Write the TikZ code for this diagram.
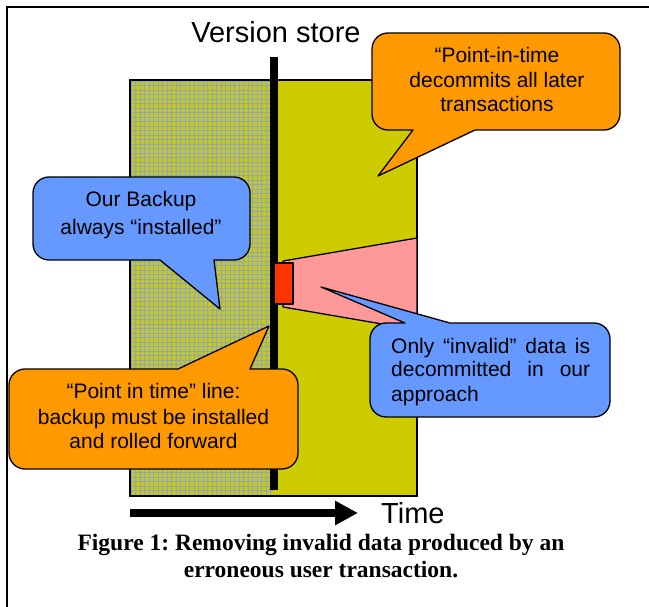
\documentclass[tikz,border=0pt]{standalone}
\usepackage{fontspec}
\setmainfont{Liberation Sans}
\newfontfamily\capfont{Liberation Serif}
\usetikzlibrary{arrows.meta}

\definecolor{storeolive}{RGB}{204,204,0}
\definecolor{hatchbase}{RGB}{196,200,32}
\definecolor{hatchline}{RGB}{142,166,192}
\definecolor{calloutorange}{RGB}{255,153,0}
\definecolor{calloutblue}{RGB}{102,153,255}
\definecolor{invalidpink}{RGB}{255,153,153}
\definecolor{invalidred}{RGB}{255,51,0}

% corner radius of the callouts
\def\crad{16}
\def\cq{7.2}% 0.448 * radius, control-point offset for a quarter circle

% callout with its pointer on the lower edge:
% #1 style, #2 left, #3 top, #4 right, #5 bottom, #6/#7 pointer base x, #8/#9 pointer tip
\newcommand\calloutlow[9]{%
  \draw[#1] ({#2+\crad},#3) -- ({#4-\crad},#3)
    .. controls ({#4-\cq},#3) and (#4,{#3+\cq}) .. (#4,{#3+\crad})
    -- (#4,{#5-\crad})
    .. controls (#4,{#5-\cq}) and ({#4-\cq},#5) .. ({#4-\crad},#5)
    -- (#7,#5) -- (#8,#9) -- (#6,#5)
    -- ({#2+\crad},#5)
    .. controls ({#2+\cq},#5) and (#2,{#5-\cq}) .. (#2,{#5-\crad})
    -- (#2,{#3+\crad})
    .. controls (#2,{#3+\cq}) and ({#2+\cq},#3) .. ({#2+\crad},#3) -- cycle;}

% callout with its pointer on the upper edge
\newcommand\callouthigh[9]{%
  \draw[#1] ({#2+\crad},#3) -- (#6,#3) -- (#8,#9) -- (#7,#3)
    -- ({#4-\crad},#3)
    .. controls ({#4-\cq},#3) and (#4,{#3+\cq}) .. (#4,{#3+\crad})
    -- (#4,{#5-\crad})
    .. controls (#4,{#5-\cq}) and ({#4-\cq},#5) .. ({#4-\crad},#5)
    -- ({#2+\crad},#5)
    .. controls ({#2+\cq},#5) and (#2,{#5-\cq}) .. (#2,{#5-\crad})
    -- (#2,{#3+\crad})
    .. controls (#2,{#3+\cq}) and ({#2+\cq},#3) .. ({#2+\crad},#3) -- cycle;}

\tikzset{
  outline/.style={draw=black, line width=1.3pt, line join=round},
  orangecall/.style={outline, fill=calloutorange},
  bluecall/.style={outline, fill=calloutblue},
  calltext/.style={inner sep=0pt, font=\fontsize{21}{24}\selectfont, anchor=base},
  bigtext/.style={inner sep=0pt, font=\fontsize{29}{34}\selectfont},
  captext/.style={inner sep=0pt, font=\capfont\bfseries\fontsize{23.5}{27}\selectfont\frenchspacing, anchor=base},
}

\begin{document}
\begin{tikzpicture}[x=1pt,y=-1pt]
  \useasboundingbox (0,0) rectangle (649,607);
  \fill[white] (0,0) rectangle (649,607);

  % frame lines
  \draw[line width=2pt] (7,607) -- (7,7.5) -- (649,7.5);

  % version store: backed-up part (hatched) and later part
  \begin{scope}
    \clip (130,80) rectangle (273,496);
    \fill[hatchbase] (130,80) rectangle (273,496);
    \foreach \gx in {131,135.5,...,275} \draw[hatchline, line width=0.8pt] (\gx,80) -- (\gx,496);
    \foreach \gy in {81,85.5,...,498} \draw[hatchline, line width=0.8pt] (130,\gy) -- (273,\gy);
  \end{scope}
  \fill[storeolive] (273,80) rectangle (417,496);
  \draw[line width=1.5pt] (130,80) rectangle (417,496);

  % data produced by the erroneous transaction
  \draw[outline, fill=invalidpink] (283,261) -- (417,238) -- (417,330) -- (283,307) -- cycle;

  % point-in-time line
  \coordinate (linetop) at (274,57);
  \coordinate (linebot) at (274,490);
  \draw[line width=7.5pt] (linetop) -- (linebot);

  % erroneous transaction
  \draw[outline, fill=invalidred] (274,263) rectangle (293,304);

  % labels
  \node[bigtext, anchor=base] (store) at (276,43) {Version store};

  % callouts
  \calloutlow{orangecall}{372}{33}{620}{130}{413}{475}{378}{176}
  \node[calltext] (pit1) at (497,63) {“Point-in-time};
  \node[calltext] (pit2) at (497,88) {decommits all later};
  \node[calltext] (pit3) at (497,112) {transactions};

  \calloutlow{bluecall}{33}{177}{250}{260}{160}{214}{220}{309}
  \node[calltext] (bk1) at (141,207) {Our Backup};
  \node[calltext] (bk2) at (141,235) {always “installed”};

  \callouthigh{bluecall}{370}{323}{610}{417}{405}{450}{321}{287}
  \node[calltext, anchor=base west] (inv1) at (391,353) {\makebox[199pt][s]{Only “invalid” data is}};
  \node[calltext, anchor=base west] (inv2) at (391,377) {\makebox[199pt][s]{decommitted in our}};
  \node[calltext, anchor=base west] (inv3) at (391,402) {approach};

  \callouthigh{orangecall}{9}{369}{298}{469}{178}{250}{269}{326}
  \node[calltext] (pl1) at (153.5,399) {“Point in time” line:};
  \node[calltext] (pl2) at (153.5,424) {backup must be installed};
  \node[calltext] (pl3) at (153.5,448) {and rolled forward};

  % time axis
  \coordinate (tstart) at (130,513);
  \coordinate (tend) at (358,513);
  \draw[line width=8pt, -{Triangle[length=23pt,width=23pt]}] (tstart) -- (tend);
  \node[bigtext, anchor=base west] (time) at (381,523) {Time};

  % caption
  \node[captext] (cap1) at (321,550) {Figure 1: Removing invalid data produced by an};
  \node[captext] (cap2) at (321,577) {erroneous user transaction.};
\end{tikzpicture}
\end{document}
